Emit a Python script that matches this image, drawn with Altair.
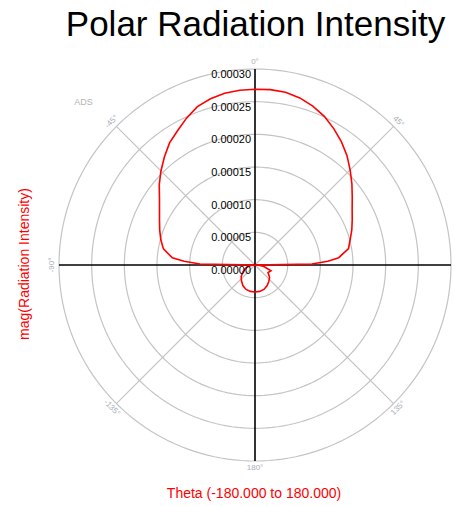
import altair as alt
import pandas as pd
import numpy as np

# ---- data ----
theta_deg = [-180, -170, -160, -150, -140, -130, -120, -110, -100, -95, -90,
             -89, -87, -85, -80, -75, -70, -65, -60, -55, -50, -45, -40, -35,
             -30, -25, -20, -15, -10, -5, 0, 5, 10, 15, 20, 25, 30, 35, 40, 45,
             50, 55, 60, 65, 70, 75, 80, 85, 87, 89, 90, 95, 100, 110, 120,
             130, 140, 150, 160, 170, 180]
intensity = [4.13e-5, 4.10e-5, 3.98e-5, 3.67e-5, 3.21e-5, 2.76e-5, 2.14e-5, 1.53e-5,
             0.92e-5, 0.46e-5, 0.0,
             8.42e-5, 10.87e-5, 12.70e-5, 14.23e-5, 14.92e-5, 15.52e-5, 16.13e-5,
             16.88e-5, 17.85e-5, 19.13e-5, 20.36e-5, 21.58e-5, 22.81e-5, 23.72e-5,
             24.80e-5, 25.79e-5, 26.33e-5, 26.71e-5, 26.86e-5, 26.90e-5, 26.94e-5,
             26.86e-5, 26.48e-5, 25.87e-5, 25.10e-5, 24.11e-5, 23.04e-5, 21.89e-5,
             20.59e-5, 19.36e-5, 18.17e-5, 17.17e-5, 16.42e-5, 15.77e-5, 15.08e-5,
             14.54e-5, 12.86e-5, 11.17e-5, 8.72e-5, 0.0,
             0.77e-5, 1.38e-5, 2.60e-5, 2.30e-5, 2.91e-5, 3.29e-5, 3.67e-5,
             3.98e-5, 4.10e-5, 4.13e-5]

ring_values = [0.00005, 0.00010, 0.00015, 0.00020, 0.00025, 0.00030]
radial_label_values = [0.0, 0.00005, 0.00010, 0.00015, 0.00020, 0.00025, 0.00030]
diag_angles = [45, 135, -135, -45]
axis_angles = [0, 90]
angle_ticks = [0, 45, 90, 135, 180, -135, -90, -45]
angle_tick_text = ["0°", "45°", "90°", "135°", "180°", "-135°", "-90°", "-45°"]
R_MAX = 0.00030
R_LABEL = 0.000310

title_text = "Polar Radiation Intensity"
x_title_text = "Theta (-180.000 to 180.000)"
y_title_text = "mag(Radiation Intensity)"
watermark = "ADS"

FONT = "Liberation Sans"

# ---- tables ----
curve = pd.DataFrame({"theta": theta_deg, "r": intensity})
curve["idx"] = range(len(curve))

grid_angles = list(range(0, 361, 2))
rings = pd.DataFrame([(rv, a) for rv in ring_values for a in grid_angles],
                     columns=["ring", "a"])
diag = pd.DataFrame({"a": diag_angles, "R": R_MAX})
axes_df = pd.DataFrame({"a": axis_angles, "R": R_MAX})
rlab = pd.DataFrame({"v": radial_label_values})
alab = pd.DataFrame({"a": angle_ticks, "t": angle_tick_text, "R": R_LABEL})

xs = alt.Scale(domain=[-R_MAX, R_MAX], nice=False, zero=False)
ys = alt.Scale(domain=[-R_MAX, R_MAX], nice=False, zero=False)

rings_layer = alt.Chart(rings).transform_calculate(
    x="datum.ring * sin(datum.a * PI / 180)",
    y="datum.ring * cos(datum.a * PI / 180)",
).mark_line(color="#c4c4c4", strokeWidth=1.2).encode(
    x=alt.X("x:Q", scale=xs, axis=None),
    y=alt.Y("y:Q", scale=ys, axis=None),
    detail="ring:N",
    order="a:Q",
)

diag_layer = alt.Chart(diag).transform_calculate(
    x0="0", y0="0",
    x1="datum.R * sin(datum.a * PI / 180)",
    y1="datum.R * cos(datum.a * PI / 180)",
).mark_rule(color="#c4c4c4", strokeWidth=1.2).encode(
    x=alt.X("x0:Q", scale=xs, axis=None),
    y=alt.Y("y0:Q", scale=ys, axis=None),
    x2="x1:Q", y2="y1:Q",
)

axes_layer = alt.Chart(axes_df).transform_calculate(
    x0="-datum.R * sin(datum.a * PI / 180)",
    y0="-datum.R * cos(datum.a * PI / 180)",
    x1="datum.R * sin(datum.a * PI / 180)",
    y1="datum.R * cos(datum.a * PI / 180)",
).mark_rule(color="#000000", strokeWidth=1.6).encode(
    x=alt.X("x0:Q", scale=xs, axis=None),
    y=alt.Y("y0:Q", scale=ys, axis=None),
    x2="x1:Q", y2="y1:Q",
)

curve_layer = alt.Chart(curve).transform_calculate(
    x="datum.r * sin(datum.theta * PI / 180)",
    y="datum.r * cos(datum.theta * PI / 180)",
).mark_line(color="#ff0000", strokeWidth=1.6).encode(
    x=alt.X("x:Q", scale=xs, axis=None),
    y=alt.Y("y:Q", scale=ys, axis=None),
    order="idx:Q",
)

rlab_layer = alt.Chart(rlab).transform_calculate(
    x0="0", lbl="format(datum.v, '.5f')"
).mark_text(align="right", baseline="middle", dx=-4, dy=6, font=FONT,
            fontSize=11, color="#000000").encode(
    x=alt.X("x0:Q", scale=xs, axis=None),
    y=alt.Y("v:Q", scale=ys, axis=None),
    text="lbl:N",
)

alab_layer = alt.Chart(alab).transform_calculate(
    x="datum.R * sin(datum.a * PI / 180)",
    y="datum.R * cos(datum.a * PI / 180)",
    rot="((abs(datum.a) > 90 ? datum.a - 180 * (datum.a > 0 ? 1 : -1) : datum.a) + 360) % 360",
).mark_text(align="center", baseline="middle", font=FONT, fontSize=8,
            color="#a8aeb8").encode(
    x=alt.X("x:Q", scale=xs, axis=None),
    y=alt.Y("y:Q", scale=ys, axis=None),
    angle=alt.Angle("rot:Q", scale=None),
    text="t:N",
)

title_layer = alt.Chart(pd.DataFrame({"t": [title_text]})).mark_text(
    align="center", baseline="alphabetic", font=FONT, fontSize=35, color="#000000"
).encode(text="t:N", x=alt.value(196.5), y=alt.value(-33))

xt_layer = alt.Chart(pd.DataFrame({"t": [x_title_text]})).mark_text(
    align="center", baseline="alphabetic", font=FONT, fontSize=14, color="#ff0000"
).encode(text="t:N", x=alt.value(195), y=alt.value(429))

yt_layer = alt.Chart(pd.DataFrame({"t": [y_title_text]})).mark_text(
    align="center", baseline="middle", font=FONT, fontSize=14, color="#ff0000",
    angle=270
).encode(text="t:N", x=alt.value(-34), y=alt.value(195))

wm_layer = alt.Chart(pd.DataFrame({"t": [watermark]})).mark_text(
    align="center", baseline="middle", font=FONT, fontSize=9, color="#b4b4b4"
).encode(text="t:N", x=alt.value(24.5), y=alt.value(32.5))

chart = alt.layer(
    rings_layer, diag_layer, axes_layer, curve_layer, rlab_layer, alab_layer,
    title_layer, xt_layer, yt_layer, wm_layer
).properties(
    width=392, height=392,
    padding={"left": 59, "top": 69, "right": 3, "bottom": 45},
    autosize=alt.AutoSizeParams(type="none"),
    background="#ffffff",
).configure_view(stroke=None)

chart.save("out.html", embed_options={"renderer": "svg", "actions": False})
